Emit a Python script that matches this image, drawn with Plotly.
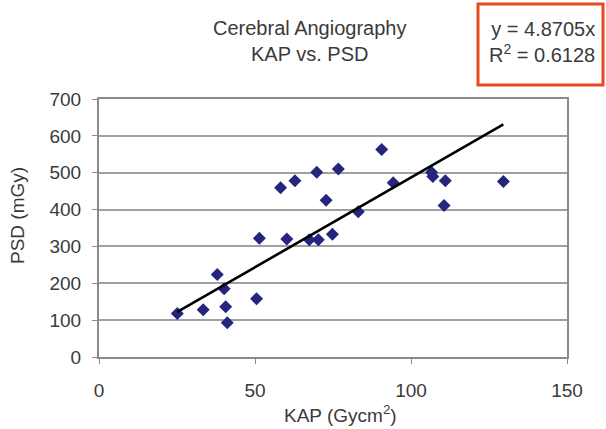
import plotly.graph_objects as go

# Data
kap = [25.1, 33.4, 37.9, 40.1, 40.6, 41.1, 50.5, 51.4, 58.2, 60.2, 62.8, 67.4, 69.8,
       70.3, 72.8, 74.8, 76.7, 83.1, 90.6, 94.3, 106.6, 107.0, 110.6, 111.0, 129.6]
psd = [118, 128, 224, 185, 136, 93, 158, 322, 459, 320, 478, 318, 501,
       318, 425, 333, 510, 394, 563, 473, 501, 490, 411, 478, 476]
slope = 4.8705
r2 = 0.6128
x_ticks = [0, 50, 100, 150]
y_ticks = [0, 100, 200, 300, 400, 500, 600, 700]

trend_x = [min(kap), max(kap)]
trend_y = [slope * v for v in trend_x]

FONT = "Liberation Sans, Arial, sans-serif"
TXT = "#3a3a3a"

fig = go.Figure()
fig.add_trace(go.Scatter(x=kap, y=psd, mode="markers",
                         marker=dict(symbol="diamond", size=10, color="#25257e",
                                     line=dict(width=0)),
                         showlegend=False))
fig.add_trace(go.Scatter(x=trend_x, y=trend_y, mode="lines",
                         line=dict(color="black", width=2.6), showlegend=False))

W, H = 606, 429
L, R, T, B = 99, 39, 99, 72
pw, ph = W - L - R, H - T - B

def px(x):
    return (x - L) / pw

def py(y):
    return (H - B - y) / ph

fig.update_layout(
    width=W, height=H,
    margin=dict(l=L, r=R, t=T, b=B),
    plot_bgcolor="white", paper_bgcolor="white",
    font=dict(family=FONT, color=TXT, size=19),
    xaxis=dict(range=[0, 150], tickvals=x_ticks, showgrid=False, zeroline=False,
               showline=True, linecolor="#8a8a8a", linewidth=2, mirror=True,
               ticks="outside", ticklen=5, tickcolor="#8a8a8a",
               tickfont=dict(size=19, color=TXT), ticklabelstandoff=10),
    yaxis=dict(range=[0, 700], tickvals=y_ticks, showgrid=True, gridcolor="#a0a0a0",
               gridwidth=1.6, zeroline=False,
               showline=True, linecolor="#8a8a8a", linewidth=2, mirror=True,
               ticks="outside", ticklen=5, tickcolor="#8a8a8a",
               tickfont=dict(size=19, color=TXT), ticklabelstandoff=7),
    annotations=[
        dict(text="Cerebral Angiography<br>KAP vs. PSD", xref="paper", yref="paper",
             x=px(309), y=py(41), xanchor="center", yanchor="middle", showarrow=False,
             font=dict(size=20, color=TXT, family=FONT)),
        dict(text="y = 4.8705x<br>R<sup>2</sup> = 0.6128", xref="paper", yref="paper",
             x=px(597), y=py(42), xanchor="right", yanchor="middle", showarrow=False,
             align="right", font=dict(size=20, color=TXT, family=FONT)),
        dict(text="KAP (Gycm<sup>2</sup>)", xref="paper", yref="paper",
             x=px(340), y=py(414), xanchor="center", yanchor="middle", showarrow=False,
             font=dict(size=19, color=TXT, family=FONT)),
        dict(text="PSD (mGy)", xref="paper", yref="paper", textangle=-90,
             x=px(17), y=py(216), xanchor="center", yanchor="middle", showarrow=False,
             font=dict(size=19, color=TXT, family=FONT)),
    ],
    shapes=[
        dict(type="rect", xref="paper", yref="paper",
             x0=px(478), x1=px(603), y0=py(4), y1=py(85),
             line=dict(color="#e84a1f", width=3), fillcolor="rgba(0,0,0,0)"),
    ],
)

fig.write_html("out.html", config={"displayModeBar": False},
               post_script="document.body.style.margin='0px';")
